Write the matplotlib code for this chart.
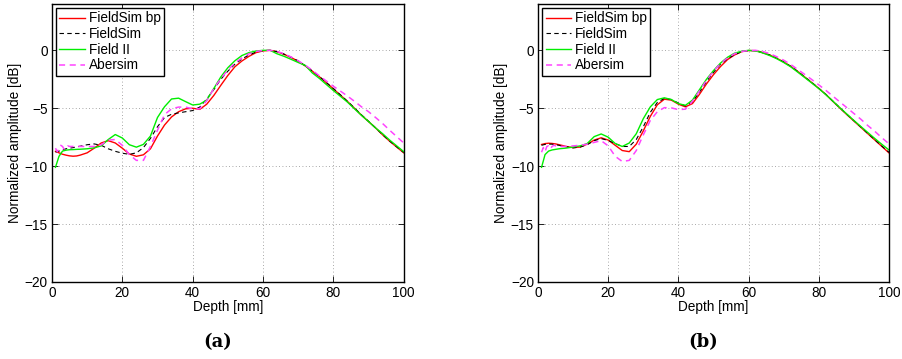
import matplotlib
matplotlib.use("Agg")
import matplotlib.pyplot as plt

plt.rcParams['font.family'] = ['Liberation Sans', 'DejaVu Sans']
plt.rcParams['font.size'] = 9.8

# ---- data (depth in mm, amplitude in dB) ----
depth = [1, 2, 3, 4, 5, 6, 7, 8, 10, 12, 14, 16, 18, 20, 22, 24, 26, 28, 30,
         32, 34, 36, 38, 40, 42, 44, 46, 48, 50, 52, 54, 56, 58, 60, 62, 64,
         66, 68, 70, 72, 74, 76, 78, 80, 82, 84, 86, 88, 90, 92, 94, 96, 98, 100]

depth_abersim = [1, 1.5, 2, 2.5, 3, 3.5, 4, 4.5, 5, 6, 8, 10, 12, 14, 16, 18,
                 20, 22, 24, 26, 28, 30, 32, 34, 36, 38, 40, 42, 44, 46, 48, 50,
                 52, 54, 56, 58, 60, 62, 64, 66, 68, 70, 72, 74, 76, 78, 80, 82,
                 84, 86, 88, 90, 92, 94, 96, 98, 100]

# panel (a)
fsbp_a = [-8.72, -8.85, -8.97, -9.05, -9.11, -9.14, -9.12, -9.05, -8.85, -8.45,
          -8.0, -7.8, -8.0, -8.45, -8.95, -9.15, -9.02, -8.5, -7.4, -6.45,
          -5.75, -5.3, -5.05, -5.0, -5.1, -4.65, -3.9, -3.02, -2.17, -1.42,
          -0.92, -0.52, -0.2, -0.05, 0.0, -0.12, -0.35, -0.62, -0.95, -1.35,
          -1.8, -2.28, -2.8, -3.33, -3.87, -4.41, -5.0, -5.6, -6.15, -6.7,
          -7.3, -7.85, -8.35, -8.85]
fs_a = [-8.79, -8.7, -8.6, -8.5, -8.45, -8.4, -8.33, -8.28, -8.15, -8.08,
        -8.2, -8.5, -8.72, -8.88, -8.98, -8.85, -8.4, -7.6, -6.6, -5.8,
        -5.52, -5.4, -5.3, -5.2, -4.9, -4.2, -3.4, -2.5, -1.8, -1.2,
        -0.75, -0.4, -0.15, -0.03, 0.0, -0.12, -0.33, -0.6, -0.92, -1.33,
        -1.78, -2.26, -2.78, -3.3, -3.84, -4.4, -4.98, -5.58, -6.13, -6.7,
        -7.28, -7.83, -8.33, -8.82]
f2_a = [-10.1, -9.15, -8.7, -8.62, -8.58, -8.57, -8.55, -8.54, -8.5, -8.42,
        -8.25, -7.7, -7.27, -7.57, -8.15, -8.36, -8.12, -7.4, -5.8, -4.87,
        -4.2, -4.13, -4.43, -4.72, -4.65, -4.3, -3.3, -2.3, -1.5, -0.9,
        -0.45, -0.2, -0.06, 0.0, 0.0, -0.3, -0.52, -0.78, -1.05, -1.3,
        -1.95, -2.42, -2.95, -3.47, -3.97, -4.47, -5.05, -5.62, -6.15, -6.7,
        -7.2, -7.75, -8.25, -8.75]
ab_a = [-8.45, -8.75, -8.5, -8.2, -8.3, -8.55, -8.4, -8.25, -8.3, -8.3,
        -8.3, -8.3, -8.3, -8.15, -7.75, -7.7, -8.2, -9.0, -9.5, -9.5,
        -8.3, -6.9, -5.55, -5.05, -4.9, -4.9, -5.05, -5.05, -4.35, -3.3,
        -2.45, -1.7, -1.1, -0.65, -0.3, -0.1, -0.02, 0.0, -0.1, -0.3,
        -0.58, -0.9, -1.28, -1.72, -2.2, -2.65, -3.1, -3.52, -3.95, -4.4,
        -4.88, -5.3, -5.8, -6.32, -6.9, -7.45, -8.0]

# panel (b)
fsbp_b = [-8.13, -8.05, -8.02, -8.04, -8.08, -8.15, -8.22, -8.3, -8.4, -8.35,
          -8.1, -7.75, -7.55, -7.75, -8.2, -8.65, -8.75, -8.1, -6.95, -5.7,
          -4.7, -4.22, -4.3, -4.65, -4.88, -4.6, -3.8, -2.9, -2.1, -1.4,
          -0.8, -0.4, -0.12, -0.02, -0.03, -0.2, -0.4, -0.68, -1.0, -1.38,
          -1.82, -2.3, -2.78, -3.28, -3.8, -4.4, -4.98, -5.55, -6.1, -6.65,
          -7.2, -7.75, -8.3, -8.85]
fs_b = [-8.2, -8.12, -8.1, -8.1, -8.15, -8.2, -8.28, -8.33, -8.42, -8.35,
        -8.15, -7.8, -7.62, -7.78, -8.05, -8.3, -8.3, -7.7, -6.6, -5.35,
        -4.5, -4.15, -4.25, -4.55, -4.8, -4.45, -3.6, -2.7, -1.9, -1.2,
        -0.72, -0.38, -0.12, -0.02, -0.03, -0.2, -0.4, -0.68, -1.0, -1.38,
        -1.82, -2.3, -2.78, -3.28, -3.8, -4.38, -4.95, -5.52, -6.07, -6.62,
        -7.18, -7.72, -8.27, -8.8]
f2_b = [-10.1, -9.0, -8.7, -8.6, -8.55, -8.5, -8.47, -8.44, -8.35, -8.25,
        -8.05, -7.45, -7.22, -7.5, -8.05, -8.3, -8.0, -7.2, -5.9, -4.88,
        -4.25, -4.1, -4.25, -4.6, -4.75, -4.3, -3.4, -2.5, -1.75, -1.1,
        -0.6, -0.25, -0.08, 0.0, -0.05, -0.22, -0.45, -0.72, -1.05, -1.42,
        -1.88, -2.35, -2.82, -3.3, -3.82, -4.38, -4.95, -5.5, -6.05, -6.58,
        -7.1, -7.62, -8.12, -8.6]
ab_b = [-8.8, -8.4, -8.75, -8.3, -8.25, -8.5, -8.3, -8.2, -8.25, -8.3,
        -8.3, -8.25, -8.2, -8.1, -7.95, -7.8, -8.25, -9.15, -9.6, -9.5,
        -8.65, -7.3, -6.05, -5.3, -4.95, -4.97, -5.12, -5.08, -4.4, -3.5,
        -2.6, -1.8, -1.15, -0.65, -0.3, -0.1, -0.02, 0.0, -0.1, -0.28,
        -0.55, -0.85, -1.22, -1.65, -2.08, -2.52, -2.98, -3.45, -3.95, -4.45,
        -4.95, -5.45, -5.95, -6.5, -7.0, -7.55, -8.07]

labels = ['FieldSim bp', 'FieldSim', 'Field II', 'Abersim']
xticks = [0, 20, 40, 60, 80, 100]
yticks = [-20, -15, -10, -5, 0]


def draw_panel(ax, fsbp, fs, f2, ab, caption):
    ax.plot(depth, fsbp, color='#ff0000', lw=1.0, label=labels[0])
    ax.plot(depth, fs, color='black', lw=0.8, ls=(0, (4, 3)), label=labels[1])
    ax.plot(depth, f2, color='#00ee00', lw=1.0, label=labels[2])
    ax.plot(depth_abersim, ab, color='#ff44ff', lw=1.1, ls=(0, (4, 3)), label=labels[3])
    ax.set_xlim(0, 100)
    ax.set_ylim(-20, 4)
    ax.set_xticks(xticks)
    ax.set_yticks(yticks)
    ax.grid(True, color='0.55', lw=0.6, ls=(0, (1, 3)))
    ax.tick_params(direction='in', length=4, width=0.6, top=True, right=True, pad=3)
    for s in ax.spines.values():
        s.set_linewidth(1.0)
    ax.set_xlabel('Depth [mm]', labelpad=0)
    ax.set_ylabel('Normalized amplitude [dB]', labelpad=2)
    leg = ax.legend(loc='upper left', fancybox=False, edgecolor='black',
                    framealpha=1, borderaxespad=0.3, borderpad=0.25,
                    handlelength=1.9, handletextpad=0.25, labelspacing=0.12)
    leg.get_frame().set_linewidth(1.0)
    ax.text(0.47, -0.216, caption, transform=ax.transAxes, ha='center', va='center',
            fontsize=13, fontweight='bold', family='DejaVu Serif')


fig = plt.figure(figsize=(9.02, 3.59), dpi=100)
ax_a = fig.add_axes([0.0576, 0.2145, 0.390, 0.7744])
ax_b = fig.add_axes([0.5965, 0.2145, 0.389, 0.7744])
draw_panel(ax_a, fsbp_a, fs_a, f2_a, ab_a, '(a)')
draw_panel(ax_b, fsbp_b, fs_b, f2_b, ab_b, '(b)')

fig.savefig('out.png', dpi=100)
